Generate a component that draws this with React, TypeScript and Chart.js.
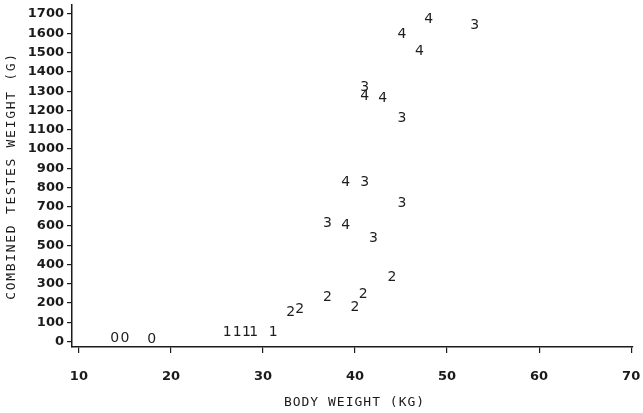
import React, { useEffect, useRef } from "react";
import { Chart, registerables } from "chart.js";

Chart.register(...registerables);

// Group labels (marker digits)
const groupLabels = ["0", "1", "2", "3", "4"];

// Body weight (kg) per group
const bodyWeight0 = [13.9, 15.0, 17.9];
const bodyWeight1 = [26.1, 27.2, 28.2, 29.0, 31.1];
const bodyWeight2 = [33.0, 34.0, 37.0, 40.0, 40.9, 44.0];
const bodyWeight3 = [41.05, 45.1, 37.0, 42.0, 53.0, 41.05, 45.1];
const bodyWeight4 = [39.0, 39.0, 48.0, 45.1, 47.0, 41.05, 43.0];

// Combined testes weight (g) per group
const testes0 = [17, 17, 12];
const testes1 = [48, 46, 46, 48, 50];
const testes2 = [150, 165, 228, 180, 243, 332];
const testes3 = [826, 717, 613, 535, 1642, 1320, 1159];
const testes4 = [826, 603, 1674, 1596, 1507, 1273, 1263];

const xTicks = [10, 20, 30, 40, 50, 60, 70];
const yTicks = [0, 100, 200, 300, 400, 500, 600, 700, 800, 900, 1000, 1100, 1200, 1300, 1400, 1500, 1600, 1700];

const xTitle = "BODY WEIGHT (KG)";
const yTitle = "COMBINED TESTES WEIGHT (G)";

const INK = "#1a1a1a";

const digitPlugin = {
  id: "digitMarkers",
  afterDatasetsDraw(chart: any) {
    const ctx = chart.ctx;
    ctx.save();
    ctx.font = '14px "DejaVu Sans"';
    ctx.fillStyle = "#1e1e1e";
    ctx.textAlign = "center";
    ctx.textBaseline = "middle";
    chart.data.datasets.forEach((ds: any, i: number) => {
      const meta = chart.getDatasetMeta(i);
      meta.data.forEach((el: any) => {
        ctx.fillText(ds.label, el.x, el.y);
      });
    });
    ctx.restore();
  },
};

const titlePlugin = {
  id: "axisTitles",
  afterDraw(chart: any) {
    const ctx = chart.ctx;
    const a = chart.chartArea;
    ctx.save();
    ctx.fillStyle = INK;
    ctx.font = '13px "DejaVu Sans Mono"';
    ctx.textAlign = "center";
    ctx.textBaseline = "middle";
    (ctx as any).letterSpacing = "1px";
    ctx.fillText(xTitle, (a.left + a.right) / 2 + 2, 403);
    ctx.translate(12, (a.top + a.bottom) / 2);
    ctx.rotate(-Math.PI / 2);
    (ctx as any).letterSpacing = "1.7px";
    ctx.fillText(yTitle, 0, 0);
    ctx.restore();
  },
};

export default function App() {
  const ref = useRef<HTMLCanvasElement>(null);

  useEffect(() => {
    if (!ref.current) return;
    const mk = (xs: number[], ys: number[]) => xs.map((x, i) => ({ x, y: ys[i] }));
    const chart = new Chart(ref.current, {
      type: "scatter",
      data: {
        datasets: [
          { label: groupLabels[0], data: mk(bodyWeight0, testes0) },
          { label: groupLabels[1], data: mk(bodyWeight1, testes1) },
          { label: groupLabels[2], data: mk(bodyWeight2, testes2) },
          { label: groupLabels[3], data: mk(bodyWeight3, testes3) },
          { label: groupLabels[4], data: mk(bodyWeight4, testes4) },
        ].map((d) => ({ ...d, pointRadius: 0, pointHoverRadius: 0 })),
      },
      options: {
        responsive: false,
        animation: false,
        maintainAspectRatio: false,
        layout: { padding: { left: 0, top: 5, right: 0, bottom: 0 } },
        plugins: { legend: { display: false }, tooltip: { enabled: false } },
        events: [],
        scales: {
          x: {
            type: "linear",
            min: 9.25,
            max: 70.2,
            afterBuildTicks: (s: any) => {
              s.ticks = xTicks.map((v) => ({ value: v }));
            },
            afterFit: (s: any) => {
              s.height = 66;
              s.paddingLeft = 0;
              s.paddingRight = 10;
            },
            border: { display: true, color: INK, width: 1.5 },
            grid: { drawOnChartArea: false, drawTicks: true, tickLength: 6, color: INK, lineWidth: 1.2 },
            ticks: {
              color: INK,
              padding: 16,
              maxRotation: 0,
              autoSkip: false,
              callback: (v: any) => String(v),
              font: { family: "DejaVu Sans", size: 13, weight: "bold" },
            },
          },
          y: {
            type: "linear",
            min: -28,
            max: 1747,
            afterBuildTicks: (s: any) => {
              s.ticks = yTicks.map((v) => ({ value: v }));
            },
            afterFit: (s: any) => {
              s.width = 72;
              s.paddingTop = 0;
              s.paddingBottom = 0;
            },
            border: { display: true, color: INK, width: 1.5 },
            grid: { drawOnChartArea: false, drawTicks: true, tickLength: 5, color: INK, lineWidth: 1.2 },
            ticks: {
              color: INK,
              padding: 3,
              autoSkip: false,
              callback: (v: any) => String(v),
              font: { family: "DejaVu Sans", size: 13, weight: "bold" },
            },
          },
        },
      },
      plugins: [digitPlugin, titlePlugin],
    } as any);
    return () => chart.destroy();
  }, []);

  return (
    <div style={{ position: "fixed", left: 0, top: 0, width: 643, height: 413, background: "#fff" }}>
      <canvas ref={ref} width={643} height={413} style={{ display: "block" }} />
    </div>
  );
}
